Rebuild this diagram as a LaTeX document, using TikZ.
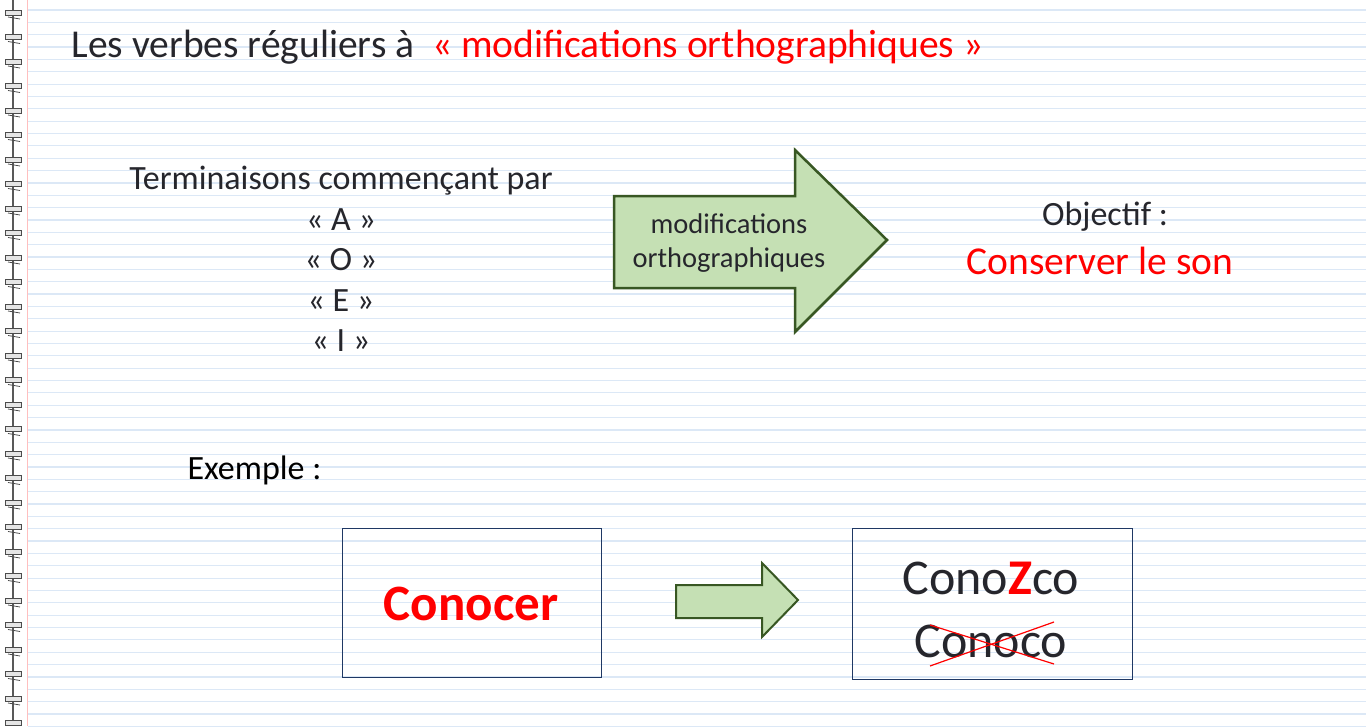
\documentclass[tikz,border=0pt]{standalone}
\usepackage{fontspec}
\setmainfont{Carlito}
\definecolor{lineblue}{RGB}{220,232,246}
\definecolor{txt}{RGB}{38,38,44}
\definecolor{arrfill}{RGB}{197,224,180}
\definecolor{arrdraw}{RGB}{56,87,35}
\definecolor{boxdraw}{RGB}{31,56,100}
\tikzset{
  fsz/.style={font=\fontsize{#1}{#1}\selectfont},
  arrowshape/.style={fill=arrfill,draw=arrdraw,line width=2.5pt,line join=miter},
  exbox/.style={draw=boxdraw,line width=1pt},
}
\begin{document}
\begin{tikzpicture}[x=1pt,y=-1pt]
\useasboundingbox (0,0) rectangle (1366,726);
\fill[white] (0,0) rectangle (1366,726);
\foreach \i in {0,...,58} {\draw[lineblue,line width=1.2pt] (28,{10+12.35*\i}) -- (1366,{10+12.35*\i});}
\draw[red!25,line width=1pt] (27,0) -- (27,726);
\draw[gray!70!black,line width=1.2pt] (13,0) -- (13,726);
\foreach \i in {0,...,29} {
  \draw[gray!60!black,line width=0.8pt,fill=gray!20] (5,{10+24.5*\i}) rectangle (21,{15+24.5*\i});
  \draw[gray!60!black,line width=0.8pt] (8,{17+24.5*\i}) -- (20,{19+24.5*\i});
}
\node[text=txt,anchor=west,font=\fontsize{39.5}{40}\selectfont] (title) at (68,47) {Les verbes réguliers à \ \textcolor{red}{« modifications orthographiques »}};
\node[text=txt,align=center,anchor=north,font=\fontsize{34}{40.5}\selectfont] (term) at (341,163) {Terminaisons commençant par\\« A »\\« O »\\« E »\\« I »};
\draw[arrowshape] (614,196) -- (795,196) -- (795,150) -- (887,240) -- (795,332) -- (795,288) -- (614,288) -- cycle;
\node[text=txt,align=center,font=\fontsize{28.5}{34}\selectfont] (mod) at (729,243) {modifications\\orthographiques};
\node[text=txt,font=\fontsize{34}{34}\selectfont] (obj) at (1105,217) {Objectif :};
\node[text=red,font=\fontsize{39.5}{40}\selectfont] (cons) at (1100,261) {Conserver le son};
\node[text=black,anchor=west,font=\fontsize{34}{34}\selectfont] (ex) at (184,470) {Exemple :};
\draw[exbox] (342,528) rectangle (601,677);
\node[text=red,font=\fontsize{51}{51}\selectfont\bfseries] (con) at (471,604) {Conocer};
\draw[arrowshape,line width=2pt] (676,585) -- (762,585) -- (762,563) -- (798,600) -- (762,637) -- (762,618) -- (676,618) -- cycle;
\draw[exbox] (852,528) rectangle (1132,679);
\node[text=txt,font=\fontsize{50}{50}\selectfont] (z) at (991,578) {Cono\textcolor{red}{\bfseries Z}co};
\node[text=txt,font=\fontsize{50}{50}\selectfont] (c) at (991,641) {Conoco};
\draw[red,line width=1.2pt] (930,625) -- (1054,664);
\draw[red,line width=1.2pt] (930,666) -- (1054,622);
\end{tikzpicture}
\end{document}
